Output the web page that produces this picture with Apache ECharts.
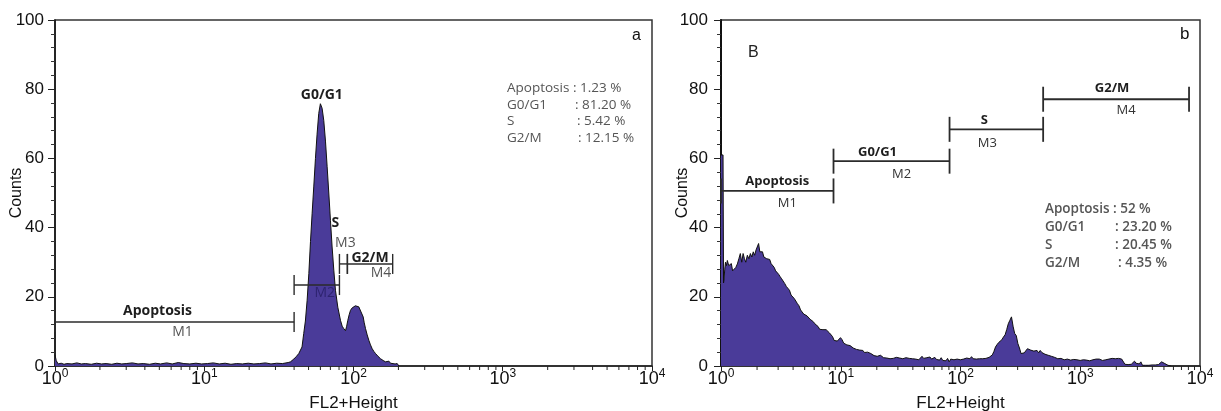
<!DOCTYPE html>
<html>
<head>
<meta charset="utf-8">
<script src="https://cdn.jsdelivr.net/npm/echarts@6/dist/echarts.min.js"></script>
<style>
html,body{margin:0;padding:0;background:#fff;}
#chart{width:1221px;height:411px;}
</style>
</head>
<body>
<div id="chart"></div>
<script>
// ---------- DATA ----------
// Panel a: histogram [FL2 channel value, counts]
const leftHist = [
[1,3.2],[1.02,1.5],[1.05,0.6],[1.1,0.8],[1.15,0.5],[1.2,0.7],[1.3,0.6],[1.4,0.9],[1.5,0.6],[1.6,0.7],
[1.75,0.5],[1.9,0.8],[2.05,0.6],[2.2,0.7],[2.4,0.5],[2.6,0.8],[2.8,0.6],[3.0,0.7],[3.3,0.9],[3.6,0.6],
[3.9,0.7],[4.3,0.5],[4.7,0.8],[5.1,0.6],[5.6,0.9],[6.1,0.6],[6.7,1.0],[7.3,0.7],[8.0,0.6],[8.8,0.8],
[9.6,0.6],[10.5,0.7],[11.5,0.9],[12.6,0.6],[13.8,0.8],[15.1,0.5],[16.5,0.7],[18,0.6],[19.7,0.8],[21.5,0.6],
[23.5,0.7],[25.7,0.9],[28,0.6],[30.6,0.8],[33.4,0.7],[36.5,1.0],[37.8,1.2],[39.8,2.0],[41.5,2.8],[43,3.6],
[45.2,5.5],[46.4,9.4],[47.6,13],[48.9,19],[50.2,26.7],[51.5,36],[52.8,44],[54.2,52],[55.6,60],[57,67],
[58.5,73],[60,75.8],[61.6,74.5],[63.2,71],[64.9,65],[66.6,57.6],[68.3,50],[70.1,42],[71.9,34.4],[73.8,27.7],
[75.7,21.9],[78.5,17],[81.8,13.2],[84,11.5],[86.1,10.8],[88.4,10.2],[90,11.5],[91.6,13.2],[93.5,14.8],[95.5,16.1],
[98,16.8],[100.5,17],[103,17.4],[105.8,17.3],[108.5,17.1],[111.4,16.6],[116.1,14.2],[118,12.5],[120.4,10.8],[123.5,9],
[126.8,7.4],[130,6.1],[133.4,5],[137,4.2],[140.5,3.6],[146,2.8],[151.8,2.1],[158,1.6],[163.9,1.2],[168,1.6],
[172.7,1.4],[177,0.8],[181.8,0.4],[190,0.6],[196.3,0.7],[201.5,0]
];
// Panel b: histogram [FL2 channel value, counts]
const rightHist = [
[1.0,61],[1.04,61],[1.05,24],[1.06,25],[1.075,28],[1.09,30],[1.11,29],[1.13,30.5],[1.16,29],[1.19,28.5],[1.22,29.6],
[1.25,27.5],[1.29,27.7],[1.33,28.5],[1.37,29.5],[1.41,31],[1.45,32.5],[1.49,30],[1.53,32.5],[1.57,31],[1.61,30],
[1.66,32],[1.71,31],[1.76,32.5],[1.81,31.5],[1.86,33],[1.91,32],[1.96,33.5],[2.01,34],[2.06,35.4],[2.11,33],
[2.16,32.5],[2.22,33],[2.28,31.5],[2.34,32],[2.41,31],[2.48,30.5],[2.55,30.8],[2.62,29.6],[2.7,29.8],[2.78,28.5],
[2.86,27.5],[2.94,27.8],[3.03,26.5],[3.12,25.8],[3.21,25.2],[3.31,24.8],[3.41,23.8],[3.51,23],[3.62,22.5],[3.73,21.9],
[3.85,20.5],[3.97,20],[4.09,19.5],[4.22,19],[4.35,18],[4.48,17.4],[4.62,16.2],[4.76,15.6],[4.91,15],[5.06,14.8],
[5.22,14.5],[5.38,14.2],[5.55,13.5],[5.72,13],[5.9,12.8],[6.08,12.2],[6.27,12.1],[6.47,11.4],[6.67,10.6],[6.88,10.3],
[7.1,10.5],[7.32,10.2],[7.55,10.5],[7.79,10.1],[8.03,9.6],[8.28,9.4],[8.54,8.5],[8.8,7.4],[9.08,6.9],[9.36,7.2],
[9.65,7.6],[9.95,8.2],[10.26,7.6],[10.58,6.6],[10.9,6.4],[11.25,6.1],[11.6,5.7],[11.96,5.9],[12.33,5.5],[12.72,5.2],
[13.11,5.4],[13.52,4.8],[13.95,4.4],[14.38,4.6],[14.83,4.2],[15.3,4.5],[15.77,3.9],[16.27,3.7],[16.77,4.0],[17.3,3.5],
[17.84,3.6],[18.4,3.1],[18.97,3.0],[19.56,3.3],[20.17,2.8],[20.8,2.7],[21.45,3.1],[22.12,2.6],[22.81,2.4],[23.52,2.7],
[24.26,2.3],[25.01,2.4],[25.8,2.1],[26.6,2.6],[27.43,2.2],[28.29,2.1],[29.17,2.5],[30.08,2.0],[31.02,2.3],[31.99,2.6],
[32.99,2.1],[34.02,2.0],[35.08,2.4],[36.18,2.1],[37.31,2.2],[38.47,1.9],[39.67,2.1],[40.91,2.5],[42.19,2.0],[43.5,2.2],
[44.86,1.8],[46.26,2.3],[47.7,2.8],[49.19,2.2],[50.73,2.0],[52.31,2.4],[53.94,1.9],[55.63,2.6],[57.36,2.0],[59.15,2.2],
[61,2.5],[62.9,1.9],[64.86,2.1],[66.88,1.7],[68.97,2.4],[71.12,1.6],[73.34,1.8],[75.63,1.5],[77.99,2.2],[80.42,1.2],
[82.93,2.0],[85.52,2.4],[88.19,1.8],[90.94,2.2],[93.78,2.0],[96.7,2.1],[99.72,1.8],[102.8,2.2],[106,2.0],[109.3,1.9],
[112.7,2.3],[116.3,2.0],[119.9,2.1],[123.6,2.7],[127.5,2.1],[131.5,2.2],[135.6,2.0],[139.8,2.3],[144.2,2.1],[148.7,2.2],
[153.3,2.1],[158.1,2.3],[163,2.2],[168.1,2.4],[173.4,2.5],[178.8,2.6],[184.3,3.2],[190.1,4.2],[196,5.5],[202.1,6.2],
[208.4,6.8],[214.9,7.2],[221.6,7.6],[228.6,8.4],[235.7,9.0],[243,10.5],[250.6,12.2],[258.4,13.2],[266.5,14.2],[274.8,11.5],
[283.4,9.4],[292.2,8.8],[301.3,6.5],[310.7,5.2],[320.4,3.6],[330.4,3.4],[340.7,3.8],[351.3,4.2],[362.3,5.0],[373.6,5.2],
[385.2,4.6],[397.2,5.0],[409.6,4.3],[422.4,4.8],[435.6,4.5],[449.2,3.8],[463.2,4.5],[477.6,3.9],[492.5,4.2],[507.9,3.4],
[523.7,3.9],[540.1,3.1],[556.9,3.5],[574.3,2.8],[592.2,3.1],[610.7,2.5],[629.7,2.9],[649.4,2.1],[669.6,2.4],[690.5,2.2],
[712,2.5],[734.3,1.8],[757.1,2.2],[780.8,2.0],[805.1,2.3],[830.2,1.7],[856.1,2.1],[882.8,1.9],[910.3,2.2],[938.7,1.8],
[968,2.0],[998.2,1.6],[1029,2.0],[1061,1.8],[1095,2.2],[1129,1.7],[1164,1.9],[1200,1.5],[1238,2.0],[1276,1.8],
[1316,1.6],[1357,2.0],[1400,1.7],[1443,2.0],[1488,2.1],[1535,1.6],[1583,2.0],[1632,1.8],[1683,1.7],[1736,2.0],
[1790,1.9],[1846,2.2],[1903,1.8],[1963,2.1],[2024,2.0],[2087,2.2],[2152,1.8],[2219,2.0],[2288,1.6],[2360,0.5],
[2433,0.3],[2509,0.4],[2587,0.3],[2668,0.5],[2751,0.9],[2837,1.4],[2925,0.8],[3016,1.3],[3110,0.6],[3208,1.2],
[3308,0.2],[3411,0.3],[3517,0.2],[3627,0.3],[3740,0.2],[3856,0.2],[3976,0.3],[4100,0.2],[4228,0.3],[4360,0.2],
[4496,0.4],[4636,0.6],[4780,1.2],[4929,1.6],[5083,0.7],[5241,0.3],[5405,0.2],[5573,0.1],[5747,0]
];

// Gates (markers)
const gateNames = ['Apoptosis','G0/G1','S','G2/M'];
const gateCodes = ['M1','M2','M3','M4'];
const leftGateFrom  = [1, 40, 80.5, 91];
const leftGateTo    = [40, 80.5, 91, 183];
const leftGateLevel = [12.7, 23.4, 29.5, 29.5];
const rightGateFrom  = [1, 8.7, 81, 490];
const rightGateTo    = [8.7, 81, 490, 8100];
const rightGateLevel = [50.6, 59.2, 68.4, 77.1];

// Statistics text
const statLabels = ['Apoptosis','G0/G1','S','G2/M'];
const leftStatValues  = ['1.23 %','81.20 %','5.42 %','12.15 %'];
const rightStatValues = ['52 %','23.20 %','20.45 %','4.35 %'];

// Axis ticks
const yTicks = [0,20,40,60,80,100];
const xMinorTicks = [2,3,4,5,6,7,8,9,20,30,40,50,60,70,80,90,200,300,400,500,600,700,800,900,2000,3000,4000,5000,6000,7000,8000,9000];

// ---------- LAYOUT / STYLE ----------
const AX_FONT = 'Liberation Sans, Arial, sans-serif';
const TXT_FONT = '"Open Sans", Lato, sans-serif';
const FILL = '#4a3b99';

// label pixel offsets relative to gate midpoint / line: [nameDx, nameDy, codeDx, codeDy]
const leftLabelOffsets = [[-17,-11,8,10],[5,-190,8,8],[-8,-41,2,-21],[0,-6,11,9]];
const rightLabelOffsets = [[0,-10,10,12],[-14,-9,10,13],[-12,-9,-9,14],[-4,-11,10,11]];

const chart = echarts.init(document.getElementById('chart'));

function makeGates(from, to, level){
  return from.map((f,i)=>[f, to[i], level[i], i]);
}

function gateRender(offsets, half, lw, codeColors, size){
  return function(params, api){
    const i = api.value(3);
    const p1 = api.coord([api.value(0), api.value(2)]);
    const p2 = api.coord([api.value(1), api.value(2)]);
    const mid = (p1[0]+p2[0])/2;
    const o = offsets[i];
    const st = {stroke:'#2b2b2b', lineWidth:lw};
    return {type:'group', children:[
      {type:'line', shape:{x1:p1[0],y1:p1[1],x2:p2[0],y2:p2[1]}, style:st},
      {type:'line', shape:{x1:p1[0],y1:p1[1]-half,x2:p1[0],y2:p1[1]+half}, style:st},
      {type:'line', shape:{x1:p2[0],y1:p2[1]-half,x2:p2[0],y2:p2[1]+half}, style:st},
      {type:'text', x:mid+o[0], y:p1[1]+o[1], style:{text:gateNames[i], fill:'#1e1e1e', font:'bold '+size+'px '+TXT_FONT, align:'center', verticalAlign:'middle'}},
      {type:'text', x:mid+o[2], y:p1[1]+o[3], style:{text:gateCodes[i], fill:codeColors[i], font:size+'px '+TXT_FONT, align:'center', verticalAlign:'middle'}}
    ]};
  };
}

function minorTickRender(params, api){
  const p = api.coord([api.value(0), 0]);
  return {type:'line', shape:{x1:p[0], y1:p[1], x2:p[0], y2:p[1]+4}, style:{stroke:'#222', lineWidth:1}};
}

function xAxisCfg(idx){
  return {
    type:'log', logBase:10, min:1, max:10000, gridIndex:idx,
    name:'FL2+Height', nameLocation:'middle', nameGap:29, nameMoveOverlap:false,
    nameTextStyle:{fontFamily:AX_FONT, fontSize:17, color:'#111'},
    axisLine:{lineStyle:{color:'#222', width:1.5}},
    axisTick:{length:5, lineStyle:{color:'#222', width:1}},
    splitLine:{show:false},
    axisLabel:{
      margin:4,
      formatter: v => '{b|10}{s|' + Math.round(Math.log10(v)) + '}',
      rich:{
        b:{fontFamily:AX_FONT, fontSize:18, color:'#111', verticalAlign:'bottom', lineHeight:18},
        s:{fontFamily:AX_FONT, fontSize:12, color:'#111', verticalAlign:'bottom', lineHeight:12, padding:[0,0,8,0]}
      }
    }
  };
}
function yAxisCfg(idx, lw, margin){
  return {
    type:'value', min:0, max:100, interval:20, gridIndex:idx,
    name:'Counts', nameLocation:'middle', nameGap:30, nameMoveOverlap:false,
    nameTextStyle:{fontFamily:AX_FONT, fontSize:16, color:'#111'},
    axisLine:{show:true, lineStyle:{color:'#111', width:lw}},
    axisTick:{show:true, length:7, lineStyle:{color:'#222', width:1}},
    minorTick:{show:true, splitNumber:5, length:4, lineStyle:{color:'#333', width:1}},
    splitLine:{show:false},
    axisLabel:{margin:margin, fontFamily:AX_FONT, fontSize:17, color:'#111',
      formatter: v => yTicks.includes(v) ? String(v) : ''}
  };
}

function statGraphics(x0, x1col, y0, dy, values, bold, color, size){
  const g = [];
  statLabels.forEach((lab,i)=>{
    const font = (bold?'600 ':'') + size + 'px ' + TXT_FONT;
    if(i===0){
      g.push({type:'text', left:x0, top:y0, style:{text:lab+' : '+values[i], font:font, fill:color}});
    } else {
      g.push({type:'text', left:x0, top:y0+i*dy, style:{text:lab, font:font, fill:color}});
      g.push({type:'text', left:x1col[i], top:y0+i*dy, style:{text:': '+values[i], font:font, fill:color}});
    }
  });
  return g;
}

const graphics = [].concat(
  statGraphics(507, [0,575,577,578], 81, 16.7, leftStatValues, false, '#555', 13.5),
  statGraphics(1045, [0,1115,1115,1118], 202, 18, rightStatValues, true, '#555', 13.5),
  [
    {type:'text', left:632, top:28, style:{text:'a', font:'16px '+AX_FONT, fill:'#111'}},
    {type:'text', left:1180, top:26, style:{text:'b', font:'17px '+AX_FONT, fill:'#111'}},
    {type:'text', left:748, top:45, style:{text:'B', font:'16px '+AX_FONT, fill:'#222'}}
  ]
);

chart.setOption({
  animation:false,
  backgroundColor:'#fff',
  grid:[
    {left:55, right:569, top:20, bottom:45, show:true, borderColor:'#333', borderWidth:1.5, outerBoundsMode:'none', containLabel:false},
    {left:721, right:21, top:20, bottom:45, show:true, borderColor:'#333', borderWidth:1.5, outerBoundsMode:'none', containLabel:false}
  ],
  xAxis:[xAxisCfg(0), xAxisCfg(1)],
  yAxis:[yAxisCfg(0, 1.5, 11), yAxisCfg(1, 2, 13)],
  graphic:graphics,
  series:[
    {type:'line', xAxisIndex:0, yAxisIndex:0, data:leftHist, showSymbol:false, symbol:'none',
     lineStyle:{color:'#111', width:1}, areaStyle:{color:FILL, opacity:1}, z:2},
    {type:'line', xAxisIndex:1, yAxisIndex:1, data:rightHist, showSymbol:false, symbol:'none',
     lineStyle:{color:'#111', width:1}, areaStyle:{color:FILL, opacity:1}, z:2},
    {type:'custom', xAxisIndex:0, yAxisIndex:0, data:xMinorTicks.map(v=>[v,0]), clip:false, renderItem:minorTickRender, z:3, silent:true},
    {type:'custom', xAxisIndex:1, yAxisIndex:1, data:xMinorTicks.map(v=>[v,0]), clip:false, renderItem:minorTickRender, z:3, silent:true},
    {type:'custom', xAxisIndex:0, yAxisIndex:0, data:makeGates(leftGateFrom,leftGateTo,leftGateLevel), clip:false,
     renderItem:gateRender(leftLabelOffsets, 10, 1.4, ['#555','#2e2470','#555','#555'], 14), z:5, silent:true},
    {type:'custom', xAxisIndex:1, yAxisIndex:1, data:makeGates(rightGateFrom,rightGateTo,rightGateLevel), clip:false,
     renderItem:gateRender(rightLabelOffsets, 12.5, 1.8, ['#333','#333','#333','#333'], 13), z:5, silent:true}
  ]
});
</script>
</body>
</html>
